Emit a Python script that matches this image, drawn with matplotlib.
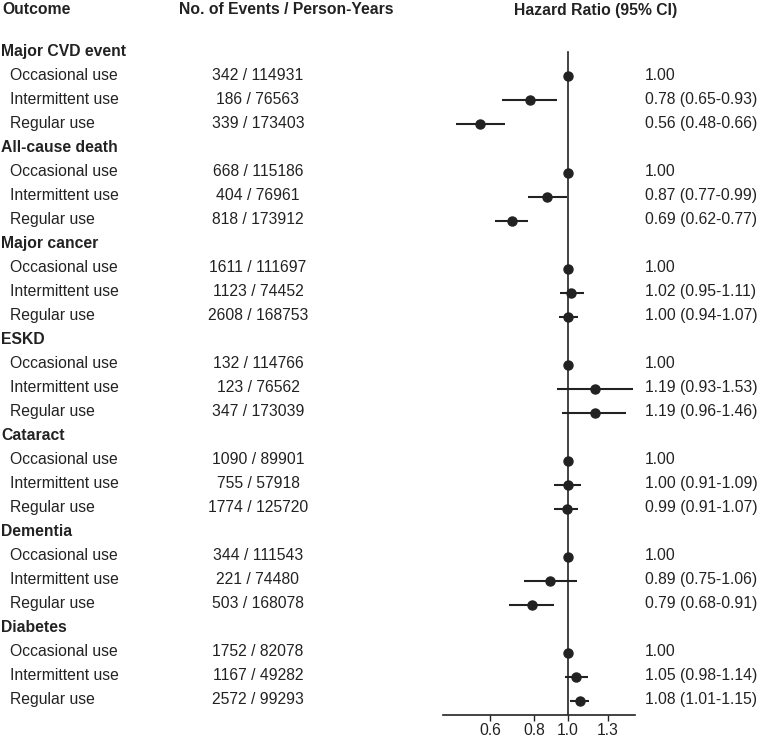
import numpy as np
import matplotlib.pyplot as plt
from matplotlib.transforms import blended_transform_factory

plt.rcParams['font.family'] = ['Liberation Sans', 'DejaVu Sans']

outcomes = ['Major CVD event', 'All-cause death', 'Major cancer', 'ESKD',
            'Cataract', 'Dementia', 'Diabetes']
groups = ['Occasional use', 'Intermittent use', 'Regular use']

events = [342, 186, 339, 668, 404, 818, 1611, 1123, 2608, 132, 123, 347,
          1090, 755, 1774, 344, 221, 503, 1752, 1167, 2572]
person_years = [114931, 76563, 173403, 115186, 76961, 173912, 111697, 74452, 168753,
                114766, 76562, 173039, 89901, 57918, 125720, 111543, 74480, 168078,
                82078, 49282, 99293]
hr = [1.00, 0.78, 0.56, 1.00, 0.87, 0.69, 1.00, 1.02, 1.00, 1.00, 1.19, 1.19,
      1.00, 1.00, 0.99, 1.00, 0.89, 0.79, 1.00, 1.05, 1.08]
lo = [None, 0.65, 0.48, None, 0.77, 0.62, None, 0.95, 0.94, None, 0.93, 0.96,
      None, 0.91, 0.91, None, 0.75, 0.68, None, 0.98, 1.01]
hi = [None, 0.93, 0.66, None, 0.99, 0.77, None, 1.11, 1.07, None, 1.53, 1.46,
      None, 1.09, 1.07, None, 1.06, 0.91, None, 1.14, 1.15]

W, H = 762, 742
fig = plt.figure(figsize=(W / 100, H / 100), dpi=100)
ax = fig.add_axes([443 / W, (H - 715) / H, (635 - 443) / W, (715 - 40) / H])
ax.set_xscale('log')
ax.set_xlim(0.44, 1.55)
ax.set_ylim(27.6, -0.52)

txt = '#222222'
fs = 11.3
tr = blended_transform_factory(fig.transFigure, ax.transData)

# headers
fig.text(2 / W, 1 - 10 / H, 'Outcome', fontsize=fs, fontweight='bold', color=txt, va='center')
fig.text(286 / W, 1 - 10 / H, 'No. of Events / Person-Years', fontsize=fs, fontweight='bold',
         color=txt, va='center', ha='center')
fig.text(596 / W, 1 - 10 / H, 'Hazard Ratio (95% CI)', fontsize=fs, fontweight='bold',
         color=txt, va='center', ha='center')

row = 0
k = 0
for name in outcomes:
    ax.text(1 / W, row - 0.04, name, transform=tr, fontsize=fs, fontweight='bold', color=txt, va='center')
    row += 1
    for g in groups:
        ax.text(10 / W, row - 0.04, g, transform=tr, fontsize=fs, color=txt, va='center')
        ax.text(258 / W, row - 0.04, f'{events[k]} / {person_years[k]}', transform=tr, fontsize=fs,
                color=txt, va='center', ha='center')
        if lo[k] is None:
            lab = f'{hr[k]:.2f}'
        else:
            lab = f'{hr[k]:.2f} ({lo[k]:.2f}-{hi[k]:.2f})'
            ax.plot([lo[k], hi[k]], [row, row], color=txt, lw=1.5, solid_capstyle='butt')
        ax.plot(hr[k], row, 'o', color=txt, ms=6.5)
        ax.text(645 / W, row - 0.04, lab, transform=tr, fontsize=fs, color=txt, va='center')
        row += 1
        k += 1

ax.plot([1, 1], [0.0, 27.6], color=txt, lw=1.2)

for s in ['top', 'right', 'left']:
    ax.spines[s].set_visible(False)
ax.spines['bottom'].set_color(txt)
ax.spines['bottom'].set_linewidth(1.2)
ax.set_yticks([])
ax.set_xticks([0.6, 0.8, 1.0, 1.3])
ax.set_xticklabels(['0.6', '0.8', '1.0', '1.3'])
ax.minorticks_off()
ax.tick_params(axis='x', labelsize=fs, colors=txt, length=4, width=1.0, pad=2)

fig.savefig('out.png', dpi=100)
